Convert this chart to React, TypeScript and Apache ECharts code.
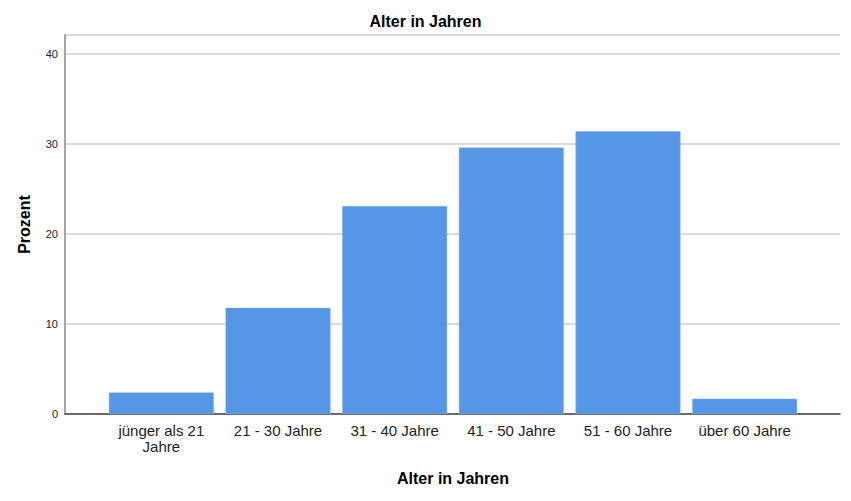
import React, { useEffect, useRef } from "react";
import * as echarts from "echarts";

const categories = [
  "jünger als 21\nJahre",
  "21 - 30 Jahre",
  "31 - 40 Jahre",
  "41 - 50 Jahre",
  "51 - 60 Jahre",
  "über 60 Jahre",
];
const prozent = [2.4, 11.8, 23.1, 29.6, 31.4, 1.7];
const yMax = 42.1;

export default function App() {
  const ref = useRef<HTMLDivElement>(null);
  useEffect(() => {
    document.body.style.margin = "0";
    if (!ref.current) return;
    const chart = echarts.init(ref.current, undefined, { renderer: "svg" });
    const font = "'Liberation Sans', Arial, sans-serif";
    chart.setOption({
      animation: false,
      backgroundColor: "#ffffff",
      title: {
        text: "Alter in Jahren",
        left: "center",
        top: 8,
        textStyle: { fontFamily: font, fontSize: 16, fontWeight: "bold", color: "#000" },
      },
      grid: [
        { left: 65, right: 11, top: 35, bottom: 87 },
        { left: 103, right: 48, top: 35, bottom: 87 },
      ],
      xAxis: [
        {
          gridIndex: 0,
          type: "value",
          min: 0,
          max: 1,
          axisLine: { show: true, lineStyle: { color: "#444", width: 1.5 } },
          axisTick: { show: false },
          axisLabel: { show: false },
          splitLine: { show: false },
        },
        {
          gridIndex: 1,
          type: "category",
          data: categories,
          axisLine: { show: false },
          axisTick: { show: false },
          axisLabel: {
            fontFamily: font,
            fontSize: 15,
            color: "#222",
            margin: 8,
            lineHeight: 16,
            interval: 0,
          },
          name: "Alter in Jahren",
          nameLocation: "middle",
          nameGap: 56,
          nameTextStyle: { fontFamily: font, fontSize: 16, fontWeight: "bold", color: "#000" },
        },
      ],
      yAxis: [
        {
          gridIndex: 0,
          type: "value",
          min: 0,
          max: yMax,
          interval: 10,
          axisLine: { show: true, lineStyle: { color: "#888", width: 1.5 } },
          axisTick: { show: false },
          axisLabel: {
            fontFamily: font,
            fontSize: 11,
            color: "#222",
            margin: 7,
            showMaxLabel: false,
          },
          splitLine: { show: true, lineStyle: { color: "#cfcfcf", width: 1.5 } },
          name: "Prozent",
          nameLocation: "middle",
          nameGap: 33,
          nameTextStyle: { fontFamily: font, fontSize: 16, fontWeight: "bold", color: "#000" },
        },
        {
          gridIndex: 1,
          type: "value",
          min: 0,
          max: yMax,
          show: false,
        },
      ],
      series: [
        {
          type: "bar",
          xAxisIndex: 1,
          yAxisIndex: 1,
          data: prozent,
          barCategoryGap: "10%",
          itemStyle: { color: "#5596e6", borderColor: "#8ab6ee", borderWidth: 0.5 },
        },
      ],
    });
    return () => chart.dispose();
  }, []);
  return <div ref={ref} style={{ width: 851, height: 501 }} />;
}
